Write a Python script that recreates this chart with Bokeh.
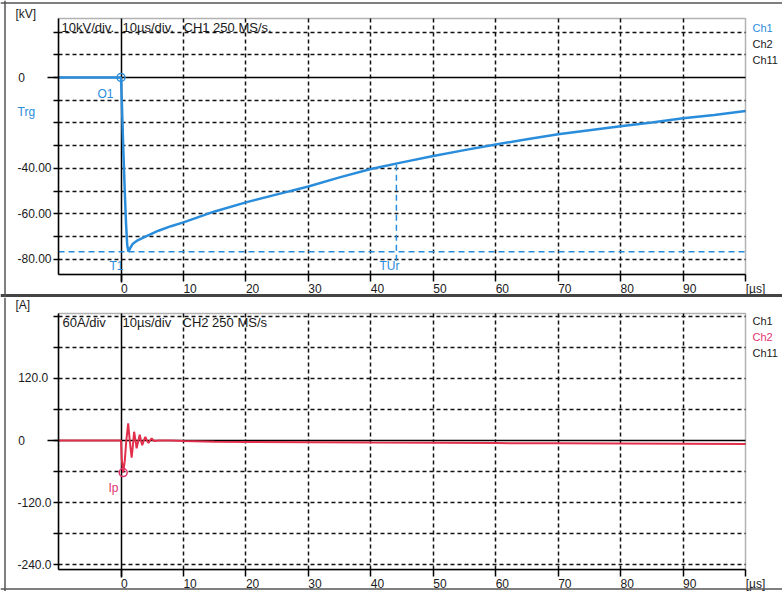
from bokeh.plotting import figure
from bokeh.layouts import column
from bokeh.models import (Range1d, FixedTicker, Label, Span, ColumnDataSource, Grid,
                          BoxAnnotation)
from bokeh.embed import file_html
from bokeh.resources import INLINE

# ---------------- data ----------------
t_voltage = [-10, 0, 0.15, 0.35, 0.6, 0.8, 1.0, 1.2, 1.5, 1.9, 2.5, 4, 6, 8, 10, 15, 20, 25, 30,
             35, 40, 45, 50, 55, 60, 65, 70, 75, 80, 85, 90, 95, 100]
voltage_kv = [0, 0, -12, -30, -50, -64, -74, -76.8, -75, -73.2, -72, -70, -67.5, -65.5, -63.8, -59,
              -55, -51.5, -48, -44, -40.3, -37.4, -34.6, -32, -29.5, -27.2, -25, -23.2, -21.5,
              -19.8, -18, -16.5, -14.8]

t_current = [-10, 0, 0.12, 0.35, 0.6, 0.85, 1.15, 1.4, 1.7, 1.9, 2.1, 2.3, 2.5, 2.75, 3.0, 3.2,
             3.4, 3.65, 3.9, 4.15, 4.4, 4.65, 4.9, 5.3, 6, 8, 10, 15, 20, 30, 40, 50, 60, 70,
             80, 90, 100]
current_a = [0, 0, -35, -62, -40, 0, 33, 0, -33, -10, 17, 2, -15, -2, 11, 0, -9, 0, 7, 0, -5, 0,
             4, -1, 0, 0, -1, -2.5, -3, -3.2, -4, -4.5, -5, -5.5, -6, -6.5, -7]

x_ticks = [0, 10, 20, 30, 40, 50, 60, 70, 80, 90, 100]
x_tick_labels = ["0", "10", "20", "30", "40", "50", "60", "70", "80", "90", "[µs]"]

kv_ticks = [20, 10, 0, -10, -20, -30, -40, -50, -60, -70, -80]
kv_tick_labels = ["", "", "0", "", "", "", "-40.00", "", "-60.00", "", "-80.00"]

a_ticks = [240, 180, 120, 60, 0, -60, -120, -180, -240]
a_tick_labels = ["", "", "120.0", "", "0", "", "-120.0", "", "-240.0"]

t_window = (-10, 100)
kv_window = (-86.8, 26)
a_window = (-250, 246)

peak_kv = -76.8
t_ur = 44.1
v_ur = -38.4
ip_t = 0.35
ip_a = -62

BLUE = "#2a8ddb"
RED = "#e2304c"
PINK = "#e0336c"
FONT = "Liberation Sans"
TXT = "#1a1a1a"

FS = "\u2007"   # figure space (digit width)
PS = "\u2008"   # punctuation space (period width)
NARROW = set(".-[]")


def lead_pad(s):
    """pad so that a centred label starts at its tick"""
    n_d = sum(1 for c in s if c not in NARROW)
    n_n = sum(1 for c in s if c in NARROW)
    return FS * n_d + PS * n_n + s


def trail_pad(s):
    """pad so that right-aligned labels all start at the same x"""
    if not s:
        return s
    n_d = sum(1 for c in s if c not in NARROW)
    n_n = sum(1 for c in s if c in NARROW)
    return s + FS * max(0, 4 - n_d) + PS * max(0, 2 - n_n)


def style(p, yt, ylabels, y_win, grid_y):
    p.background_fill_color = "white"
    p.border_fill_color = "white"
    p.outline_line_color = None
    xa, ya = p.xaxis[0], p.yaxis[0]
    xa.fixed_location = y_win[0]
    ya.fixed_location = t_window[0]
    xa.bounds = t_window
    ya.bounds = y_win
    xa.ticker = FixedTicker(ticks=x_ticks)
    xa.major_label_overrides = {t: lead_pad(s) for t, s in zip(x_ticks, x_tick_labels)}
    ya.ticker = FixedTicker(ticks=yt)
    ya.major_label_overrides = {t: trail_pad(s) for t, s in zip(yt, ylabels)}
    for ax in (xa, ya):
        ax.axis_line_color = "black"
        ax.axis_line_width = 1.5
        ax.major_tick_line_color = "black"
        ax.major_tick_line_width = 1.5
        ax.major_tick_in = 0
        ax.minor_tick_line_color = None
        ax.major_label_text_font = FONT
        ax.major_label_text_color = TXT
    xa.major_label_text_font_size = "12px"
    ya.major_label_text_font_size = "12px"
    xa.major_tick_out = 7
    xa.major_label_standoff = 0
    ya.major_tick_out = 5
    ya.major_label_standoff = 2
    p.xgrid.ticker = FixedTicker(ticks=x_ticks[1:-1])
    p.ygrid.ticker = FixedTicker(ticks=grid_y)
    p.xgrid.cross_bounds = y_win
    p.ygrid.cross_bounds = t_window
    for g in (p.xgrid, p.ygrid):
        g.grid_line_color = "#111111"
        g.grid_line_dash = "4 3"
        g.grid_line_width = 1.5
    # solid zero lines
    span_y = y_win[1] - y_win[0]
    p.add_layout(Grid(dimension=0, ticker=FixedTicker(ticks=[0]),
                      cross_bounds=(y_win[0] - 0.03 * span_y, y_win[1]),
                      grid_line_color="black", grid_line_width=1.5))
    p.add_layout(Grid(dimension=1, ticker=FixedTicker(ticks=[0]),
                      cross_bounds=(t_window[0] - 1.7, t_window[1]),
                      grid_line_color="black", grid_line_width=1.5))
    p.add_layout(BoxAnnotation(left=t_window[0], right=t_window[1], bottom=y_win[0],
                               top=y_win[1], fill_alpha=0, line_color="black",
                               line_width=1.5))


def lab(p, x, y, text, color=TXT, size="12px", align="left", baseline="middle"):
    p.add_layout(Label(x=x, y=y, text=text, text_color=color, text_font=FONT,
                       text_font_size=size, text_align=align, text_baseline=baseline))


# pixel calibration of the screen picture: t = (x-120.5)/6.245
def t_at(px):
    return (px - 120.5) / 6.245


def kv_at(py):
    return -(py - 77) / 2.27


def a_at(py):
    return -(py - 440) / 0.5167


W = 782
H1 = 297
H2 = 294

# ---------------- top: voltage ----------------
p1 = figure(width=W, height=H1, output_backend="svg", toolbar_location=None,
            x_range=Range1d(t_at(0), t_at(W)), y_range=Range1d(kv_at(H1), kv_at(0)),
            min_border_left=0, min_border_right=0, min_border_top=0, min_border_bottom=0)
style(p1, kv_ticks, kv_tick_labels, kv_window, [20, 10, -10, -20, -30, -40, -50, -60, -70, -80])

src_v = ColumnDataSource(dict(t=t_voltage, v=voltage_kv))
p1.line("t", "v", source=src_v, line_color=BLUE, line_width=2.5)
p1.scatter([0], [0], marker="circle", size=8, fill_color=None, line_color=BLUE, line_width=1.5)
p1.segment(x0=[t_window[0]], y0=[peak_kv], x1=[t_window[1]], y1=[peak_kv], line_color=BLUE,
           line_width=1.5, line_dash="6 4")
p1.segment(x0=[t_ur], y0=[v_ur], x1=[t_ur], y1=[kv_at(262)], line_color=BLUE,
           line_width=1.5, line_dash="6 4")

# frame of the screen
p1.add_layout(Span(location=kv_at(295), dimension="width", line_color="#444444", line_width=3))
p1.add_layout(Span(location=kv_at(2.5), dimension="width", line_color="#555555", line_width=1.5))
p1.add_layout(Span(location=t_at(4.5), dimension="height", line_color="#555555", line_width=1.5))

lab(p1, t_at(15), kv_at(13), "[kV]")
lab(p1, t_at(61), kv_at(27), "10kV/div.", size="13px")
lab(p1, t_at(122), kv_at(27), "10µs/div.", size="13px")
lab(p1, t_at(183), kv_at(27), "CH1 250 MS/s.", size="13px")
lab(p1, t_at(752), kv_at(27), "Ch1", color=BLUE, size="11px")
lab(p1, t_at(752), kv_at(43), "Ch2", size="11px")
lab(p1, t_at(752), kv_at(59), "Ch11", size="11px")
lab(p1, t_at(17), kv_at(111), "Trg", color=BLUE)
lab(p1, t_at(113), kv_at(93), "O1", color=BLUE, align="right")
lab(p1, t_at(116), kv_at(265), "T1", color=BLUE, align="center")
lab(p1, t_at(389), kv_at(265), "TUr", color=BLUE, align="center")

# ---------------- bottom: current ----------------
p2 = figure(width=W, height=H2, output_backend="svg", toolbar_location=None,
            x_range=Range1d(t_at(0), t_at(W)), y_range=Range1d(a_at(H1 + H2), a_at(H1)),
            min_border_left=0, min_border_right=0, min_border_top=0, min_border_bottom=0)
style(p2, a_ticks, a_tick_labels, a_window, [240, 180, 120, 60, -60, -120, -180, -240])

src_i = ColumnDataSource(dict(t=t_current, i=current_a))
p2.line("t", "i", source=src_i, line_color=RED, line_width=2)
p2.scatter([ip_t], [ip_a], marker="circle", size=8, fill_color=None, line_color=PINK,
           line_width=1.5)
p2.add_layout(Span(location=t_at(4.5), dimension="height", line_color="#555555", line_width=1.5))
p2.add_layout(Span(location=a_at(588.5), dimension="width", line_color="#555555", line_width=1.5))

lab(p2, t_at(15), a_at(304), "[A]")
lab(p2, t_at(62), a_at(322), "60A/div", size="13px")
lab(p2, t_at(122), a_at(322), "10µs/div", size="13px")
lab(p2, t_at(182), a_at(322), "CH2 250 MS/s", size="13px")
lab(p2, t_at(752), a_at(320), "Ch1", size="11px")
lab(p2, t_at(752), a_at(336), "Ch2", color=PINK, size="11px")
lab(p2, t_at(752), a_at(352), "Ch11", size="11px")
lab(p2, t_at(113), a_at(487), "Ip", color=PINK, align="center")

layout = column(p1, p2)
open("out.html", "w").write(file_html(layout, INLINE))
